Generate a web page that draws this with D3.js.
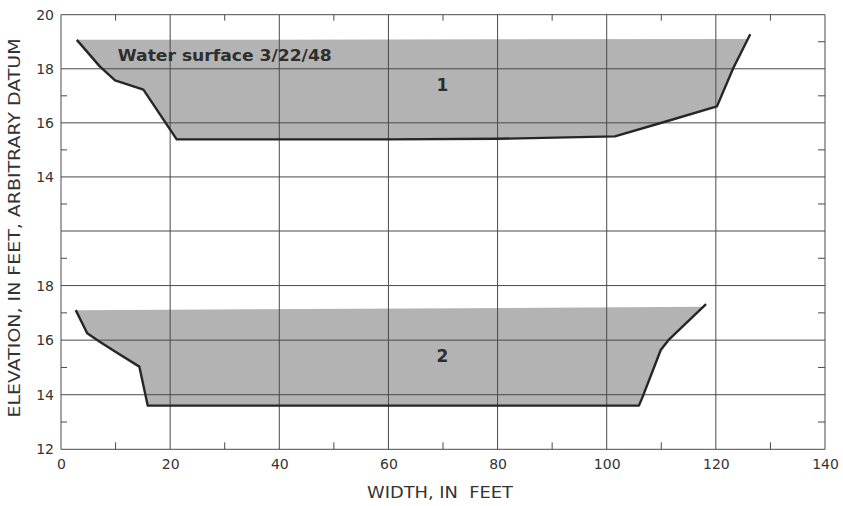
<!DOCTYPE html>
<html><head><meta charset="utf-8">
<script src="https://cdn.jsdelivr.net/npm/d3@7"></script>
<style>body{margin:0;background:#fff}</style></head>
<body><svg id="c" width="843" height="506"></svg>
<script>
// ---- data ----
const xTicks = [0, 20, 40, 60, 80, 100, 120, 140];
const xMinorTicks = [10, 30, 50, 70, 90, 110, 130];
const yTicksTop = [14, 16, 18, 20];
const yTicksBottom = [12, 14, 16, 18];
const yGridTop = [12, 14, 16, 18, 20];
const yGridBottom = [12, 14, 16, 18];
const yMinor = [13, 15, 17, 19];

const section1X    = [2.9, 7.1, 9.9, 15.1, 21.2, 60, 80, 101.5, 111, 120.2, 123.2, 126.3];
const section1Elev = [19.07, 18.09, 17.57, 17.23, 15.39, 15.39, 15.41, 15.5, 16.06, 16.61, 18.03, 19.28];
const section1WaterX = [2.9, 126.3];
const section1WaterElev = [19.07, 19.1];

const section2X    = [2.7, 4.8, 7.1, 9.9, 14.35, 15.9, 105.9, 106.6, 109.9, 111.3, 118.2];
const section2Elev = [17.10, 16.25, 15.94, 15.58, 15.03, 13.60, 13.60, 13.93, 15.64, 16.0, 17.32];
const section2WaterX = [2.7, 118.2];
const section2WaterElev = [17.10, 17.22];

const waterLabel = "Water surface 3/22/48";
const waterLabelPos = [10.4, 18.27];
const sectionLabels = ["1", "2"];
const sectionLabelPos = [[69.9, 17.41], [69.9, 15.42]];

// ---- layout ----
const svg = d3.select("#c");
const L = 61, R = 825, T = 14.7, M = 231, B = 449.3;
const x = d3.scaleLinear([0, 140], [L, R]);
const yTop = d3.scaleLinear([12, 20], [M, T]);
const yBot = d3.scaleLinear([12, 20], [B, M]);
const font = "'DejaVu Sans', sans-serif";
const txt = "#333";
const gridC = "#4a4a4a";

function fillPoly(xs, es, wx, we) {
  const w = v => we[0] + (we[1] - we[0]) * (v - wx[0]) / (wx[1] - wx[0]);
  const pts = [];
  for (let i = 0; i < xs.length; i++) {
    const below = es[i] <= w(xs[i]) + 1e-9;
    if (i > 0) {
      const pb = es[i-1] <= w(xs[i-1]) + 1e-9;
      if (pb !== below) {
        const d0 = es[i-1] - w(xs[i-1]), d1 = es[i] - w(xs[i]);
        const t = d0 / (d0 - d1);
        const xi = xs[i-1] + t * (xs[i] - xs[i-1]);
        pts.push([xi, w(xi)]);
      }
    }
    if (below) pts.push([xs[i], es[i]]);
  }
  return pts;
}

const sections = [
  {xs: section1X, es: section1Elev, wx: section1WaterX, we: section1WaterElev, y: yTop},
  {xs: section2X, es: section2Elev, wx: section2WaterX, we: section2WaterElev, y: yBot}
];

// fills
sections.forEach(s => {
  const pts = fillPoly(s.xs, s.es, s.wx, s.we);
  svg.append("path")
    .attr("d", d3.line().x(d => x(d[0])).y(d => s.y(d[1]))(pts) + "Z")
    .attr("fill", "#b3b3b3");
});

// grid
const g = svg.append("g").attr("stroke", gridC).attr("stroke-width", 1).attr("fill", "none");
xTicks.forEach(v => g.append("line").attr("x1", x(v)).attr("x2", x(v)).attr("y1", T).attr("y2", B));
yGridTop.forEach(v => g.append("line").attr("x1", L).attr("x2", R).attr("y1", yTop(v)).attr("y2", yTop(v)));
yGridBottom.forEach(v => g.append("line").attr("x1", L).attr("x2", R).attr("y1", yBot(v)).attr("y2", yBot(v)));
// minor ticks
xMinorTicks.forEach(v => {
  g.append("line").attr("x1", x(v)).attr("x2", x(v)).attr("y1", T).attr("y2", T + 6);
  g.append("line").attr("x1", x(v)).attr("x2", x(v)).attr("y1", B).attr("y2", B - 7);
});
[yTop, yBot].forEach((ys, k) => yMinor.forEach(v => {
  if (!(k === 0 && v === 19)) g.append("line").attr("x1", L).attr("x2", L + 6).attr("y1", ys(v)).attr("y2", ys(v));
  g.append("line").attr("x1", R).attr("x2", R - 7).attr("y1", ys(v)).attr("y2", ys(v));
}));

// profile lines
sections.forEach(s => {
  svg.append("path")
    .attr("d", d3.line().x((d, i) => x(s.xs[i])).y((d, i) => s.y(s.es[i]))(s.xs))
    .attr("fill", "none").attr("stroke", "#262626").attr("stroke-width", 2.4)
    .attr("stroke-linejoin", "round");
});

// axes labels
function styleAxis(sel) {
  sel.select(".domain").remove();
  sel.selectAll(".tick line").remove();
  sel.selectAll("text").attr("font-family", font).attr("font-size", 14).attr("fill", txt);
}
svg.append("g").attr("transform", `translate(0,${B})`)
  .call(d3.axisBottom(x).tickValues(xTicks).tickSize(0).tickPadding(10).tickFormat(d3.format("d")))
  .call(styleAxis);
svg.append("g").attr("transform", `translate(${L},0)`)
  .call(d3.axisLeft(yTop).tickValues(yTicksTop).tickSize(0).tickPadding(7).tickFormat(d3.format("d")))
  .call(styleAxis);
svg.append("g").attr("transform", `translate(${L},0)`)
  .call(d3.axisLeft(yBot).tickValues(yTicksBottom).tickSize(0).tickPadding(7).tickFormat(d3.format("d")))
  .call(styleAxis);

// titles
svg.append("text").attr("x", 440).attr("y", 498).attr("text-anchor", "middle")
  .attr("font-family", font).attr("font-size", 16).attr("fill", txt)
  .attr("textLength", 146).attr("lengthAdjust", "spacingAndGlyphs")
  .attr("xml:space", "preserve").text("WIDTH, IN  FEET");
svg.append("text").attr("transform", "translate(20,228) rotate(-90)").attr("text-anchor", "middle")
  .attr("font-family", font).attr("font-size", 16).attr("fill", txt)
  .attr("textLength", 379).attr("lengthAdjust", "spacingAndGlyphs")
  .text("ELEVATION, IN FEET, ARBITRARY DATUM");

// in-chart labels
svg.append("text").attr("x", x(waterLabelPos[0])).attr("y", yTop(waterLabelPos[1]))
  .attr("font-family", font).attr("font-size", 16).attr("font-weight", "bold").attr("fill", "#2e2e2e")
  .attr("textLength", 214).attr("lengthAdjust", "spacingAndGlyphs")
  .text(waterLabel);
[yTop, yBot].forEach((ys, i) => {
  svg.append("text").attr("x", x(sectionLabelPos[i][0])).attr("y", ys(sectionLabelPos[i][1]))
    .attr("text-anchor", "middle").attr("dominant-baseline", "central")
    .attr("font-family", font).attr("font-size", 17).attr("font-weight", "bold").attr("fill", "#2e2e2e")
    .text(sectionLabels[i]);
});
</script></body></html>
